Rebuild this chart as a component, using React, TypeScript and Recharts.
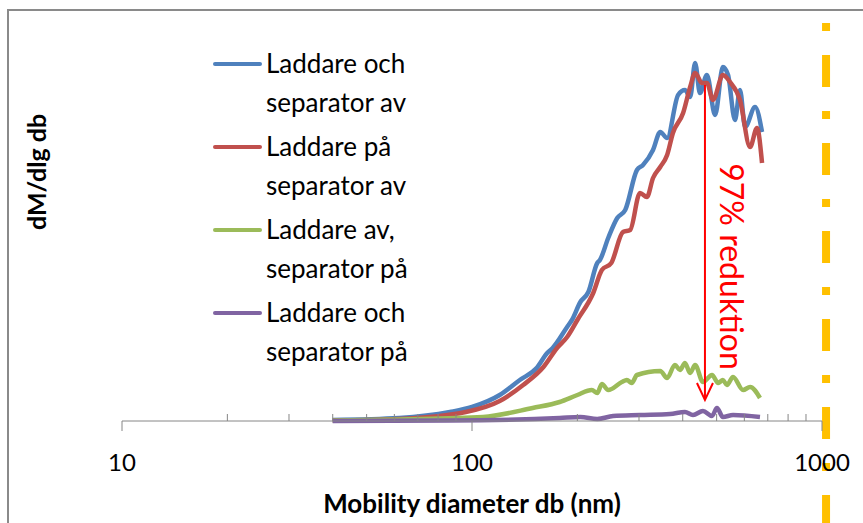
import React from "react";
import {
  LineChart,
  Line,
  XAxis,
  YAxis,
  Legend,
  ReferenceLine,
} from "recharts";

// mobility diameter (nm) and dM/dlg db (arbitrary units) per series
const blueD = [40, 62, 86.5, 100, 120, 137, 153, 164, 170, 187, 193, 204, 215, 228, 232, 245, 260, 274, 296, 308, 329, 345, 361, 388, 406, 420, 434, 448, 469, 495, 521, 539, 564, 583, 603, 644, 674];
const blueV = [0.25, 0.75, 2.25, 3.5, 6.5, 10.25, 13.25, 17, 18.25, 23.5, 25.25, 29.75, 32.25, 39.5, 40.25, 45.75, 50.75, 52.75, 62.75, 64, 67.75, 72.25, 70.75, 81.5, 82.75, 81, 89.5, 82, 86.5, 76.5, 88.5, 86.5, 75.25, 82.75, 73.5, 78.5, 72.25];

const redD = [40, 62, 96, 120, 140, 160, 175, 187, 200, 222, 235, 250, 270, 283, 302, 316, 329, 345, 361, 375, 401, 420, 434, 454, 469, 488, 521, 546, 583, 623, 652, 674];
const redV = [0.1, 0.5, 2.25, 5, 9, 13.5, 18.25, 21, 25.25, 32, 37.75, 39.5, 47.25, 47.75, 57, 56, 60.75, 63.5, 66.5, 72, 77, 83.5, 87, 84.5, 84.5, 80.25, 86.5, 84.75, 80.25, 68.5, 73.25, 64.5];

const greenD = [40, 62, 107.5, 149, 178, 200, 220, 228, 235, 245, 268, 277, 286, 296, 345, 361, 380, 393, 406, 420, 434, 457, 485, 505, 521, 535, 557, 595, 623, 665];
const greenV = [0.1, 0.4, 1, 3.25, 4.75, 6.5, 7.75, 7, 9.25, 7.75, 9.75, 10.25, 9.5, 11.5, 12.5, 10.75, 14, 12.75, 14.5, 12, 14, 9.75, 11.5, 9.5, 10.25, 9, 11, 7.75, 8.5, 5.75];

const purpleD = [40, 86.5, 178, 204, 228, 253, 302, 368, 406, 428, 457, 485, 501, 521, 557, 665];
const purpleV = [0, 0.1, 0.75, 1, 0.5, 1.25, 1.5, 1.75, 2.25, 1.5, 2.5, 1.25, 3.25, 1, 1.5, 1];

const seriesNames = [
  "Laddare och\nseparator av",
  "Laddare på\nseparator av",
  "Laddare av,\nseparator på",
  "Laddare och\nseparator på",
];
const seriesColors = ["#4F81BD", "#C0504D", "#9BBB59", "#8064A2"];

const majorTicks = [10, 100, 1000];
const minorTicks = [20, 30, 40, 50, 60, 70, 80, 90, 200, 300, 400, 500, 600, 700, 800, 900];

// annotation: 97% reduction arrow at the peak, dashed limit line past 1000 nm
const arrowD = 463;
const arrowFrom = 84;
const arrowTo = 5.25;
const limitD = 1027;

const toRows = (d: number[], v: number[]) => d.map((x, i) => ({ d: x, v: v[i] }));
const seriesData = [
  toRows(blueD, blueV),
  toRows(redD, redV),
  toRows(greenD, greenV),
  toRows(purpleD, purpleV),
];

const DiamTick = (props: any) => {
  const { x, y, payload } = props;
  const major = majorTicks.includes(payload.value);
  return (
    <g>
      <line x1={x} y1={y} x2={x} y2={major ? y + 10 : y - 7} stroke="#868686" strokeWidth={1} />
      {major && (
        <text x={x} y={y + 40} textAnchor="middle" dominantBaseline="central" fontSize={24} fill="#000">
          {payload.value}
        </text>
      )}
    </g>
  );
};

const ArrowShape = (p: any) => {
  const { x1, y1, x2, y2 } = p;
  const tx = x1 + 28;
  const ty = (y1 + y2) / 2 + 24;
  return (
    <g>
      <line x1={x1} y1={y1} x2={x2} y2={y2} stroke="#FF0000" strokeWidth={2} />
      <polyline
        points={`${x2 - 8},${y2 - 17} ${x2},${y2} ${x2 + 8},${y2 - 17}`}
        fill="none"
        stroke="#FF0000"
        strokeWidth={2}
      />
      <text
        x={tx}
        y={ty}
        textAnchor="middle"
        dominantBaseline="central"
        fontSize={32}
        fill="#FF0000"
        transform={`rotate(90, ${tx}, ${ty})`}
      >
        97% reduktion
      </text>
    </g>
  );
};

const LimitShape = (p: any) => (
  <line
    x1={p.x1}
    y1={p.y1}
    x2={p.x2}
    y2={p.y2}
    stroke="#FFC000"
    strokeWidth={8}
    strokeDasharray="8 24 32 24"
    strokeDashoffset={86}
  />
);

const LegendBox = (props: any) => {
  const items = [...(props.payload || [])].sort(
    (a: any, b: any) => seriesNames.indexOf(a.value) - seriesNames.indexOf(b.value)
  );
  return (
    <div style={{ fontSize: 26, color: "#000", lineHeight: "39px" }}>
      {items.map((e: any) => (
        <div key={e.value} style={{ display: "flex", alignItems: "flex-start", marginBottom: 5 }}>
          <div style={{ width: 49, height: 4, background: e.color, marginTop: 17.5, marginRight: 4, borderRadius: 2 }} />
          <div style={{ whiteSpace: "pre-line" }}>{e.value}</div>
        </div>
      ))}
    </div>
  );
};

export default function App() {
  return (
    <div
      style={{
        position: "absolute",
        left: 0,
        top: 0,
        width: 863,
        height: 523,
        overflow: "hidden",
        background: "#fff",
        fontFamily: "Lato, 'Liberation Sans', sans-serif",
      }}
    >
      <div
        style={{
          position: "absolute",
          left: 7,
          top: 9,
          width: 900,
          height: 600,
          border: "2px solid #8a8a8a",
        }}
      />
      <LineChart
        width={863}
        height={523}
        margin={{ top: 21, right: 41, bottom: 0, left: 0 }}
        style={{ position: "absolute", left: 0, top: 0 }}
      >
        <XAxis
          dataKey="d"
          type="number"
          scale="log"
          domain={[10, 1000]}
          allowDataOverflow
          ticks={[...majorTicks, ...minorTicks]}
          interval={0}
          height={102}
          tickSize={0}
          tickMargin={0}
          tickLine={false}
          tick={<DiamTick />}
          axisLine={{ stroke: "#868686", strokeWidth: 1 }}
          label={{
            value: "Mobility diameter db (nm)",
            position: "insideBottom",
            offset: 10,
            fontSize: 26,
            fontWeight: 700,
            fill: "#000",
          }}
        />
        <YAxis
          type="number"
          domain={[0, 100]}
          width={122}
          tick={false}
          tickLine={false}
          axisLine={false}
          label={{
            content: (lp: any) => {
              const vb = lp.viewBox || { x: 0, y: 21, width: 122, height: 400 };
              const cx = vb.x + 36;
              const cy = vb.y + 151;
              return (
                <text
                  x={cx}
                  y={cy}
                  textAnchor="middle"
                  dominantBaseline="central"
                  fontSize={25}
                  fontWeight={700}
                  fill="#000"
                  transform={`rotate(-90, ${cx}, ${cy})`}
                >
                  dM/dlg db
                </text>
              );
            },
          }}
        />
        <Legend
          layout="horizontal"
          align="center"
          verticalAlign="middle"
          content={<LegendBox />}
          wrapperStyle={{ left: 213, top: 44, width: 240 }}
        />
        {seriesData.map((rows, i) => (
          <Line
            key={seriesNames[i]}
            data={rows}
            dataKey="v"
            name={seriesNames[i]}
            stroke={seriesColors[i]}
            strokeWidth={4.5}
            type="monotone"
            dot={false}
            activeDot={false}
            isAnimationActive={false}
          />
        ))}
        <ReferenceLine
          segment={[
            { x: arrowD, y: arrowFrom },
            { x: arrowD, y: arrowTo },
          ]}
          ifOverflow="visible"
          shape={ArrowShape}
        />
        <ReferenceLine
          segment={[
            { x: limitD, y: 100 },
            { x: limitD, y: -25.5 },
          ]}
          ifOverflow="visible"
          shape={LimitShape}
        />
      </LineChart>
    </div>
  );
}
